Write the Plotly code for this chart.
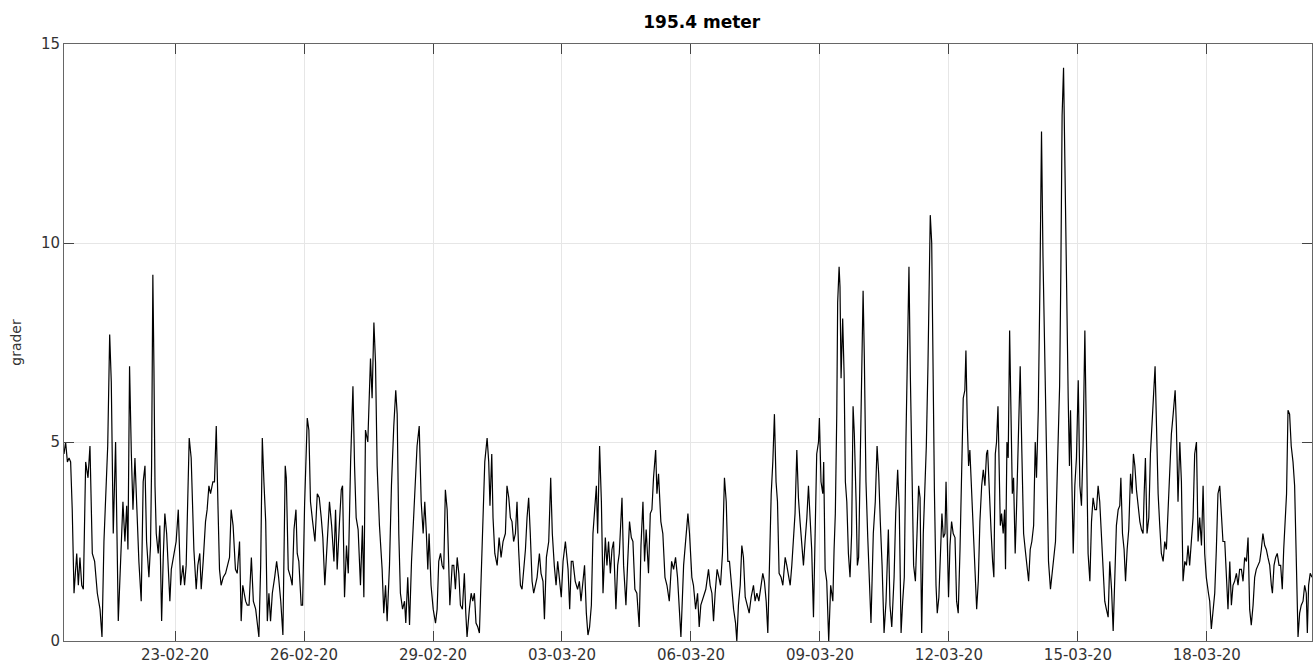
import pandas as pd
import plotly.graph_objects as go

# Series start; hours below are offsets from this timestamp
start = pd.Timestamp("2020-02-20 10:00")

# 20-02 .. 24-02
hours_a = [0.0, 0.9, 1.9, 2.8, 3.7, 4.6, 5.6, 7.1, 8.0, 8.9, 9.9, 10.8, 12.1, 13.4, 14.5, 15.8, 17.1, 18.6, 20.1, 21.2,
           22.3, 23.2, 24.4, 25.5, 26.4, 27.5, 28.8, 30.3, 31.6, 32.9, 34.0, 35.0, 35.7, 36.6, 37.6, 38.5, 39.6, 40.5, 41.8, 43.1,
           44.2, 45.2, 46.1, 47.4, 48.3, 48.9, 49.6, 50.2, 50.8, 51.5, 52.6, 53.5, 54.5, 55.4, 56.3, 57.3, 58.2, 59.1, 59.9, 61.3,
           62.6, 63.8, 65.1, 66.4, 67.3, 68.2, 69.2, 69.9, 71.0, 71.8, 72.5, 73.8, 74.7, 75.8, 76.6, 77.7, 79.0, 79.9, 80.9, 81.8,
           83.1, 84.0, 85.0, 85.9, 86.8, 87.7, 88.9, 90.2, 91.5, 92.4, 93.3, 94.4, 95.7, 96.7, 98.0, 98.9, 99.8]
grader_a = [4.7, 5.0, 4.5, 4.6, 4.5, 3.3, 1.2, 2.2, 1.4, 2.1, 1.4, 1.3, 4.5, 4.1, 4.9, 2.2, 2.0, 1.2, 0.8, 0.1,
            2.5, 3.6, 4.9, 7.7, 6.5, 2.7, 5.0, 0.5, 1.9, 3.5, 2.5, 3.4, 2.3, 6.9, 4.7, 3.3, 4.6, 3.5, 2.0, 1.0,
            4.0, 4.4, 2.5, 1.6, 2.4, 4.4, 9.2, 6.9, 3.9, 2.7, 2.2, 2.9, 0.5, 2.1, 3.2, 2.7, 1.6, 1.0, 1.8, 2.2,
            2.5, 3.3, 1.4, 1.9, 1.4, 1.9, 3.5, 5.1, 4.6, 3.5, 2.3, 1.3, 1.9, 2.2, 1.3, 2.0, 3.0, 3.3, 3.9, 3.7,
            4.0, 4.0, 5.4, 3.5, 1.8, 1.4, 1.6, 1.7, 1.9, 2.1, 3.3, 2.9, 1.8, 1.7, 2.5, 0.5, 1.4]

# 24-02 .. 28-02
hours_b = [101.4, 102.3, 103.3, 104.6, 105.7, 107.0, 108.8, 109.8, 110.7, 111.6, 112.6, 113.5, 114.4, 115.3, 116.3,
           117.6, 118.7, 119.8, 121.0, 122.2, 123.5, 124.1, 125.2, 126.5, 127.4, 128.4, 129.5, 130.2, 131.1, 132.4,
           133.2, 134.3, 135.8, 136.7, 137.6, 138.8, 140.1, 141.4, 142.5, 143.6, 144.5, 145.6, 147.0, 148.2, 149.4,
           150.7, 151.6, 152.5, 153.8, 154.8, 155.5, 156.6, 157.7, 158.7, 160.0, 161.3, 162.2, 163.1, 164.2, 165.5,
           166.6, 167.4, 168.3, 169.6, 171.1, 172.0, 173.0, 173.9, 174.8, 176.1, 177.6, 178.5, 179.5, 180.4, 181.7,
           182.8, 184.1, 185.2, 186.0, 186.9, 187.8, 189.0, 190.1, 190.8, 191.9, 192.9, 194.0, 195.3, 196.2, 197.1,
           198.3, 199.4, 200.5]
grader_b = [1.0, 0.9, 0.9, 2.1, 1.0, 0.8, 0.1, 1.9, 5.1, 4.0, 3.0, 0.5, 1.2, 0.5, 1.2,
            1.6, 2.0, 1.6, 1.0, 0.15, 4.4, 4.1, 1.8, 1.6, 1.4, 2.8, 3.3, 2.2, 2.0, 0.9,
            0.9, 3.4, 5.6, 5.3, 3.5, 3.0, 2.5, 3.7, 3.6, 3.1, 2.6, 1.4, 2.4, 3.5, 2.9,
            2.0, 3.3, 1.8, 3.0, 3.8, 3.9, 1.1, 2.4, 1.7, 4.5, 6.4, 4.4, 3.1, 2.8, 1.4,
            2.9, 1.1, 5.3, 5.0, 7.1, 6.1, 8.0, 7.0, 4.4, 2.9, 1.8, 0.7, 1.4, 0.5, 1.9,
            3.9, 5.4, 6.3, 5.7, 2.7, 1.2, 0.8, 1.0, 0.45, 1.6, 0.4, 2.0, 3.2, 4.2, 4.9,
            5.4, 3.5, 2.7]

# 28-02 .. 03-03
hours_c = [201.4, 202.3, 203.1, 203.8, 204.9, 206.1, 207.4, 208.3, 209.2, 210.2, 211.1, 212.0, 212.9, 213.9, 214.8,
           215.4, 216.7, 217.6, 218.5, 219.5, 220.4, 221.3, 222.4, 223.5, 224.3, 225.0, 226.3, 227.3, 228.2, 229.1,
           230.0, 231.0, 231.9, 232.8, 234.0, 234.9, 236.2, 237.1, 237.8, 238.8, 239.5, 240.5, 241.8, 242.9, 244.0,
           245.1, 246.4, 247.3, 248.3, 249.2, 250.1, 251.0, 252.0, 252.9, 253.8, 254.8, 255.7, 256.6, 257.6, 258.5,
           259.4, 260.3, 261.3, 262.2, 263.1, 264.1, 265.4, 266.3, 267.4, 268.2, 269.3, 270.6, 271.7, 272.6, 273.7,
           274.7, 275.6, 276.7, 277.6, 278.6, 279.9, 281.4, 282.3, 283.2, 284.1, 285.4, 286.7, 287.7, 288.6, 289.5,
           290.6, 291.6, 292.5, 293.4, 294.4, 295.3, 296.2, 297.2, 297.9, 299.0, 300.0, 300.9]
grader_c = [3.5, 2.7, 1.8, 2.7, 1.4, 0.8, 0.45, 0.8, 2.0, 2.2, 1.9, 1.8, 3.8, 3.3, 1.4,
            0.9, 1.9, 1.9, 1.3, 2.1, 1.7, 0.9, 0.8, 1.7, 0.7, 0.1, 0.8, 1.2, 1.0, 1.2,
            0.45, 0.35, 0.2, 1.4, 3.5, 4.5, 5.1, 4.5, 3.4, 4.7, 3.1, 2.2, 1.9, 2.6, 2.1,
            2.5, 2.7, 3.9, 3.6, 3.1, 3.0, 2.5, 2.7, 3.5, 2.3, 1.4, 1.3, 1.7, 2.3, 3.1,
            3.6, 2.7, 1.5, 1.2, 1.4, 1.6, 2.2, 1.7, 1.5, 0.55, 2.1, 2.5, 4.1, 2.7, 1.9,
            1.4, 2.0, 1.4, 1.1, 2.0, 2.5, 1.8, 0.8, 2.0, 2.0, 1.5, 1.3, 1.5, 1.0, 1.4,
            1.9, 0.7, 0.15, 0.35, 0.9, 2.7, 3.3, 3.9, 2.7, 4.9, 3.5, 1.2]

# 03-03 .. 07-03
hours_d = [302.2, 303.1, 304.0, 305.0, 305.9, 306.8, 308.1, 309.1, 310.0, 311.5, 312.4, 313.7, 314.6, 315.7, 316.7,
           317.6, 318.7, 319.8, 321.1, 322.1, 323.2, 324.1, 325.0, 326.3, 327.3, 328.2, 329.1, 330.3, 331.0, 331.9,
           333.2, 334.3, 335.5, 336.6, 337.9, 339.2, 340.3, 341.4, 342.5, 343.6, 344.4, 345.9, 347.2, 348.3, 349.2,
           350.5, 351.4, 352.6, 353.7, 354.6, 355.5, 357.0, 358.3, 359.8, 360.7, 361.7, 362.6, 363.5, 364.6, 365.6,
           366.5, 367.6, 368.7, 369.7, 370.6, 371.5, 372.6, 373.8, 374.9, 375.6, 376.5, 377.5, 378.4, 379.3, 380.3,
           381.6, 382.5, 383.6, 384.9, 385.8, 386.8, 387.9, 389.0, 390.1, 391.0, 392.0, 392.9, 393.8, 394.8, 395.7,
           396.6, 397.5, 398.3, 399.2, 400.3, 401.3]
grader_d = [2.6, 1.9, 2.5, 1.7, 2.3, 2.5, 0.8, 1.9, 2.2, 3.6, 1.9, 0.9, 1.9, 3.0, 2.6,
            2.5, 1.3, 1.2, 0.35, 2.4, 3.5, 2.0, 2.8, 1.7, 3.2, 3.3, 4.1, 4.8, 3.7, 4.2,
            3.0, 2.7, 1.6, 1.4, 1.0, 2.0, 1.8, 2.1, 1.6, 0.8, 0.1, 1.9, 2.7, 3.2, 2.7,
            1.6, 1.4, 0.8, 1.2, 0.35, 0.9, 1.1, 1.3, 1.8, 1.4, 1.2, 0.5, 1.2, 1.8, 1.6,
            1.4, 2.2, 4.1, 3.5, 2.0, 2.0, 1.4, 0.8, 0.45, 0.0, 0.9, 1.4, 2.4, 2.1, 1.1,
            0.9, 0.7, 1.1, 1.4, 1.0, 1.2, 1.0, 1.4, 1.7, 1.5, 1.0, 0.2, 2.0, 3.7, 4.5,
            5.7, 4.0, 3.5, 1.7, 1.6, 1.4]

# 07-03 .. 11-03
hours_e = [402.6, 403.5, 404.4, 405.4, 406.3, 407.2, 408.1, 409.1, 410.0, 410.9, 411.9, 412.8, 413.7, 414.7, 415.6,
           416.5, 417.4, 418.4, 419.3, 420.2, 421.2, 421.7, 422.6, 423.6, 424.1, 424.9, 425.8, 426.9, 428.0, 429.2,
           429.9, 430.6, 431.4, 431.9, 432.7, 433.2, 433.8, 434.7, 435.5, 436.2, 437.0, 437.9, 438.8, 439.7, 440.5,
           441.2, 442.2, 442.9, 443.6, 444.6, 445.5, 446.1, 446.8, 447.7, 448.7, 449.6, 450.5, 451.8, 452.9, 453.9,
           454.8, 455.7, 456.7, 457.8, 458.9, 460.2, 461.1, 462.1, 463.4, 464.3, 465.4, 466.3, 467.3, 468.2, 469.1,
           470.0, 470.8, 471.7, 472.5, 473.4, 474.3, 475.3, 476.2, 477.1, 477.9, 478.8, 479.7, 480.7, 481.4, 482.3,
           483.1, 483.6, 484.4, 485.1, 485.9, 486.8, 487.5, 488.4, 489.4, 490.1, 490.9, 491.8, 492.4, 493.1, 493.8,
           494.6, 495.5, 496.4, 497.4, 498.3, 499.2, 500.2, 501.1, 502.0]
grader_e = [2.1, 1.9, 1.7, 1.4, 1.9, 2.7, 3.2, 4.8, 3.6, 3.0, 2.3, 1.9, 2.5, 3.1, 3.9,
            3.0, 2.3, 0.6, 2.3, 4.7, 5.0, 5.6, 4.0, 3.7, 4.5, 1.8, 1.5, 0.0, 1.4, 1.0,
            2.3, 3.2, 5.7, 8.5, 9.4, 8.9, 6.6, 8.1, 6.7, 4.0, 3.5, 2.2, 1.6, 2.7, 5.9,
            5.2, 3.5, 1.9, 2.1, 5.2, 7.9, 8.8, 7.1, 4.0, 2.6, 1.4, 0.45, 2.7, 3.5, 4.9,
            4.2, 3.0, 1.9, 0.2, 1.0, 2.8, 0.9, 0.35, 1.6, 3.2, 4.3, 3.3, 0.2, 1.0, 1.6,
            5.0, 7.3, 9.4, 6.6, 3.7, 1.9, 1.5, 2.6, 3.9, 3.6, 0.2, 2.7, 4.1, 4.9, 6.9,
            9.7, 10.7, 10.0, 6.9, 3.8, 1.4, 0.7, 1.1, 2.7, 3.2, 2.6, 2.7, 4.0, 2.3, 1.1,
            2.4, 3.0, 2.7, 2.6, 1.0, 0.7, 2.3, 4.4, 6.1]

# 11-03 .. 15-03
hours_f = [502.9, 503.5, 504.3, 505.0, 505.7, 506.7, 507.6, 508.5, 509.5, 510.4, 511.3, 512.3, 513.2, 514.1, 515.0,
           515.6, 516.5, 517.5, 518.4, 519.1, 519.9, 520.6, 521.4, 521.9, 522.7, 523.4, 524.3, 525.1, 525.6, 526.4,
           527.1, 527.9, 528.6, 529.4, 530.1, 531.0, 531.8, 532.7, 533.8, 534.7, 535.7, 536.6, 537.5, 538.5, 539.4,
           540.3, 541.3, 542.2, 542.9, 543.9, 544.8, 545.7, 546.5, 547.2, 548.0, 548.7, 549.6, 550.7, 551.7, 552.6,
           553.5, 554.6, 555.8, 556.5, 557.2, 558.0, 558.5, 559.1, 559.8, 560.6, 561.3, 561.9, 562.6, 563.4, 564.3,
           565.2, 566.2, 567.1, 568.0, 568.9, 569.9, 570.8, 571.7, 572.7, 573.6, 574.5, 575.5, 576.4, 577.3, 578.2,
           579.2, 580.1, 581.0, 581.9, 582.9, 583.8, 584.8, 585.7, 586.6, 587.5, 588.5, 589.4, 590.0, 590.9, 591.8,
           592.6, 593.5, 594.4, 595.4, 596.3, 597.0, 597.8, 598.7, 599.6, 600.6, 601.5]
grader_f = [6.3, 7.3, 5.4, 4.4, 4.8, 3.7, 2.6, 1.5, 0.8, 1.5, 3.0, 3.9, 4.3, 3.9, 4.7,
            4.8, 3.6, 2.8, 2.0, 1.6, 4.7, 5.0, 5.9, 4.4, 2.9, 3.2, 2.7, 3.3, 1.8, 5.0,
            4.6, 7.8, 5.8, 3.7, 4.1, 2.2, 3.4, 5.2, 6.9, 4.8, 2.7, 2.3, 1.9, 1.5, 2.3,
            2.5, 2.9, 5.0, 4.1, 5.8, 8.9, 12.8, 9.7, 7.7, 5.4, 3.4, 2.0, 1.3, 1.7, 2.0,
            2.5, 4.4, 6.4, 9.3, 13.2, 14.4, 12.6, 11.2, 8.3, 6.1, 4.4, 5.8, 4.1, 2.2, 3.9,
            4.6, 6.55, 3.9, 3.4, 4.9, 7.8, 4.6, 2.2, 1.5, 3.0, 3.6, 3.3, 3.3, 3.9, 3.5,
            2.7, 2.0, 1.0, 0.8, 0.6, 2.0, 1.3, 0.25, 1.7, 2.9, 3.3, 3.4, 4.1, 2.7, 2.3,
            1.5, 2.3, 2.8, 4.2, 3.7, 4.7, 4.4, 3.8, 3.4, 3.0, 2.8]

# 15-03 .. 20-03
hours_g = [602.4, 603.0, 603.7, 604.6, 605.6, 606.5, 607.4, 608.4, 609.1, 609.9, 610.8, 611.7, 612.6, 613.6, 614.5,
           615.4, 616.4, 617.3, 618.2, 619.2, 620.3, 621.0, 621.9, 622.9, 623.8, 624.7, 625.7, 626.6, 627.5, 628.4,
           629.4, 630.3, 631.2, 632.2, 633.1, 634.0, 635.0, 635.9, 636.8, 637.7, 638.9, 639.6, 640.5, 641.5, 642.4,
           643.3, 644.2, 645.2, 646.1, 647.0, 648.0, 648.9, 649.8, 650.8, 651.7, 652.6, 653.5, 654.5, 655.4, 656.3,
           657.3, 658.2, 659.1, 660.1, 661.0, 661.9, 662.8, 663.8, 664.7, 665.6, 666.6, 667.5, 668.4, 669.3, 670.3,
           671.2, 672.1, 673.1, 674.0, 674.6, 675.5, 676.4, 677.3, 678.3, 679.2, 680.1, 680.9, 681.8, 682.5, 683.3,
           684.2, 685.1, 686.1, 687.0, 687.9, 688.9, 689.8, 690.7, 691.7, 692.6, 693.5, 694.1, 694.8, 695.7, 696.7]
grader_g = [2.7, 3.7, 4.6, 2.7, 3.1, 4.7, 5.6, 6.4, 6.9, 5.4, 3.7, 2.9, 2.2, 2.0, 2.5,
            2.3, 3.5, 4.2, 5.2, 5.7, 6.3, 5.4, 3.5, 5.0, 4.0, 1.5, 2.0, 1.9, 2.4, 1.9,
            2.5, 3.1, 4.7, 5.0, 2.5, 3.1, 2.4, 3.9, 2.2, 1.6, 1.2, 1.0, 0.3, 0.9, 1.2,
            2.3, 3.7, 3.9, 3.1, 2.5, 2.5, 1.4, 0.8, 2.0, 0.9, 1.4, 1.5, 1.7, 1.4, 1.8,
            1.8, 1.5, 2.1, 2.0, 2.6, 0.8, 0.4, 0.9, 1.6, 1.8, 1.9, 2.0, 2.3, 2.7, 2.4,
            2.3, 2.1, 1.9, 1.4, 1.2, 1.9, 2.1, 2.2, 1.9, 1.9, 1.3, 2.3, 3.0, 3.7, 5.8,
            5.7, 4.9, 4.5, 3.9, 1.9, 0.1, 0.7, 0.9, 1.0, 1.4, 1.2, 0.2, 1.4, 1.7, 1.6]

# axis ticks
y_ticks = [0, 5, 10, 15]
first_date_tick = "2020-02-23"
tick_step_days = 3

hour_parts = [hours_a, hours_b, hours_c, hours_d, hours_e, hours_f, hours_g]
grader_parts = [grader_a, grader_b, grader_c, grader_d, grader_e, grader_f, grader_g]
for hp, gp in zip(hour_parts, grader_parts):
    assert len(hp) == len(gp), (len(hp), len(gp))

hours = [h for part in hour_parts for h in part]
grader = [g for part in grader_parts for g in part]
times = start + pd.to_timedelta(hours, unit="h")

FONT = "DejaVu Sans"
TXT = "#333333"

fig = go.Figure(go.Scatter(x=times, y=grader, mode="lines",
                           line=dict(color="black", width=1.2), hoverinfo="x+y"))

axis_common = dict(
    showline=True, linecolor="#666666", linewidth=1, mirror="ticks",
    ticks="inside", ticklen=10, tickcolor="#444444", tickwidth=1,
    showgrid=True, gridcolor="#e6e6e6", gridwidth=1, zeroline=False,
    tickfont=dict(family=FONT, size=15, color=TXT), automargin=False,
)

fig.update_layout(
    width=1314, height=669,
    margin=dict(l=64, r=2, t=44, b=28),
    paper_bgcolor="white", plot_bgcolor="white",
    showlegend=False,
    title=dict(text="<b>195.4 meter</b>", x=0.511, xref="paper", xanchor="center",
               y=1 - 22 / 669, yref="container", yanchor="middle",
               font=dict(family=FONT, size=17, color="black")),
    xaxis=dict(type="date", range=[times[0], times[-1]],
               tick0=first_date_tick, dtick=tick_step_days * 86400000,
               tickformat="%d-%m-%y", **axis_common),
    yaxis=dict(range=[0, 15], tickvals=y_ticks,
               title=dict(text="grader", standoff=16,
                          font=dict(family=FONT, size=14, color=TXT)),
               **axis_common),
)

fig.write_html("out.html")
